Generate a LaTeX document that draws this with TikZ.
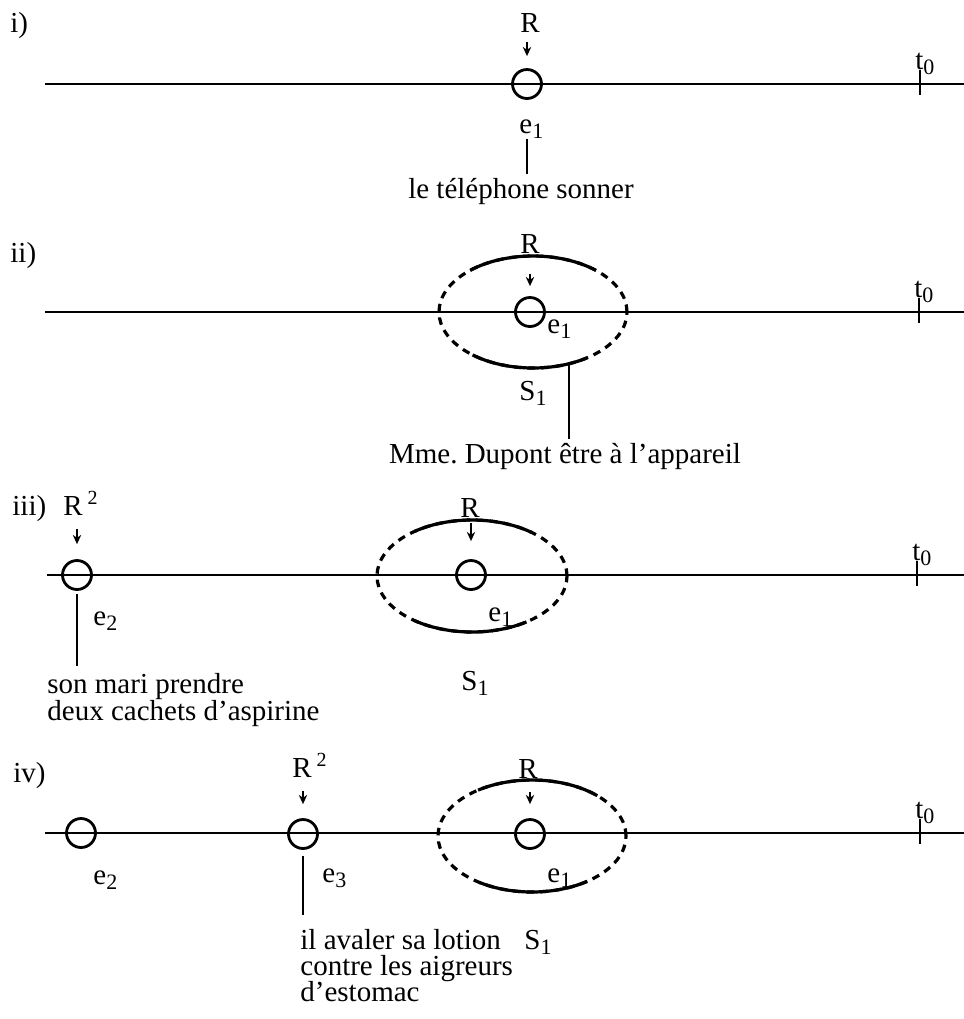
\documentclass[tikz,border=0pt]{standalone}
\usepackage{fontspec}
\setmainfont{Liberation Serif}
\usetikzlibrary{arrows.meta,positioning}
\newcommand{\lowidx}[1]{\raisebox{-2.6pt}{\fontsize{11}{11}\selectfont #1}}
\newcommand{\highidx}[1]{\raisebox{5.2pt}{\fontsize{10}{10}\selectfont #1}}
\frenchspacing

\begin{document}
\begin{tikzpicture}[x=0.5pt,y=-0.5pt]
\tikzset{
  evt/.style={circle,draw,line width=1.4pt,minimum size=14.5pt,inner sep=0pt},
  timeline/.style={line width=1pt},
  tickmark/.style={line width=1pt},
  refarrow/.style={-{Stealth[length=4.6pt,width=4.2pt]},line width=0.9pt},
  situation/.style={line width=1.6pt,dash pattern=on 3.8pt off 3pt},
  solidarc/.style={line width=1.6pt},
  stem/.style={line width=0.8pt},
  txt/.style={font=\fontsize{14.5}{13}\selectfont,inner sep=0pt,anchor=base},
  txtw/.style={txt,anchor=base west}
}
\useasboundingbox (0,0) rectangle (964,1019);

\node[txtw] (lab_i) at (10,32) {i)};
\coordinate (l_i0) at (45,84);
\coordinate (l_i1) at (964,84);
\draw[timeline] (l_i0) -- (l_i1);
\node[evt] (e1_i) at (527,84) {};
\node[txt] (R_i) at (530,32) {R};
\draw[refarrow,shorten <=5pt,shorten >=6pt] (R_i.south -| e1_i) -- (e1_i.north);
\coordinate (k_i) at (920,84);
\draw[tickmark] (k_i) ++(0,-14) -- ++(0,25);
\node[txtw] (t0_i) at (915,69) {t\lowidx{0}};
\node[txtw] (e1lab_i) at (519,133) {e\lowidx{1}};
\node[txt] (txt_i) at (521,198) {le téléphone sonner};
\draw[stem,shorten >=1.5pt] (e1lab_i.south -| e1_i) -- (txt_i.north -| e1_i);

\node[txtw] (lab_ii) at (10,262) {ii)};
\coordinate (l_ii0) at (45,312);
\coordinate (l_ii1) at (964,312);
\draw[timeline] (l_ii0) -- (l_ii1);
\coordinate (s_ii) at (533,312);
\draw[situation] (s_ii) ellipse[x radius=47pt,y radius=28pt];
\draw[solidarc] (s_ii) ++(48:47pt and 28pt) arc[start angle=48,end angle=132,x radius=47pt,y radius=28pt];
\draw[solidarc] (s_ii) ++(230:47pt and 28pt) arc[start angle=230,end angle=305,x radius=47pt,y radius=28pt];
\node[evt] (e1_ii) at (530,312) {};
\node[txt] (R_ii) at (530,253) {R};
\draw[refarrow,shorten <=10.5pt,shorten >=5pt] (R_ii.south -| e1_ii) -- (e1_ii.north);
\coordinate (k_ii) at (919,312);
\draw[tickmark] (k_ii) ++(0,-14) -- ++(0,25);
\node[txtw] (t0_ii) at (914,297) {t\lowidx{0}};
\node[txtw] (e1lab_ii) at (547,333) {e\lowidx{1}};
\node[txtw] (S1_ii) at (519,400) {S\lowidx{1}};
\path (s_ii) ++(292.5:47pt and 28pt) coordinate (foot_ii);
\node[txt] (txt_ii) at (565,463) {Mme. Dupont être à l’appareil};
\draw[stem,shorten >=1.5pt] (foot_ii) -- (foot_ii |- txt_ii.north);

\node[txtw] (lab_iii) at (12,515) {iii)};
\coordinate (l_iii0) at (47,575);
\coordinate (l_iii1) at (964,575);
\draw[timeline] (l_iii0) -- (l_iii1);
\node[evt] (e2_iii) at (77,575) {};
\node[txtw] (Rsq_iii) at (63,515) {R\,\highidx{2}};
\draw[refarrow,shorten <=7pt,shorten >=7.5pt] (Rsq_iii.south -| e2_iii) -- (e2_iii.north);
\node[txtw] (e2lab_iii) at (93,625) {e\lowidx{2}};
\node[txtw] (txt_iiia) at (47,693) {son mari prendre};
\node[txtw] (txt_iiib) at (47,720) {deux cachets d’aspirine};
\draw[stem,shorten <=1.7pt,shorten >=3pt] (e2_iii.south) -- (txt_iiia.north -| e2_iii);
\coordinate (s_iii) at (472,576);
\draw[situation] (s_iii) ellipse[x radius=47.5pt,y radius=28pt];
\draw[solidarc] (s_iii) ++(51:47.5pt and 28pt) arc[start angle=51,end angle=127,x radius=47.5pt,y radius=28pt];
\draw[solidarc] (s_iii) ++(233:47.5pt and 28pt) arc[start angle=233,end angle=305,x radius=47.5pt,y radius=28pt];
\node[evt] (e1_iii) at (471,575) {};
\node[txt] (R_iii) at (470,517) {R};
\draw[refarrow,shorten <=3pt,shorten >=9pt] (R_iii.south -| e1_iii) -- (e1_iii.north);
\node[txtw] (e1lab_iii) at (488,621) {e\lowidx{1}};
\node[txtw] (S1_iii) at (461,690) {S\lowidx{1}};
\coordinate (k_iii) at (917,575);
\draw[tickmark] (k_iii) ++(0,-14) -- ++(0,25);
\node[txtw] (t0_iii) at (912,560) {t\lowidx{0}};

\node[txtw] (lab_iv) at (13,782) {iv)};
\coordinate (l_iv0) at (45,833);
\coordinate (l_iv1) at (964,833);
\draw[timeline] (l_iv0) -- (l_iv1);
\node[evt] (e2_iv) at (81,833) {};
\node[txtw] (e2lab_iv) at (93,884) {e\lowidx{2}};
\node[evt] (e3_iv) at (303,834) {};
\node[txtw] (Rsq_iv) at (292,777) {R\,\highidx{2}};
\draw[refarrow,shorten <=7pt,shorten >=7pt] (Rsq_iv.south -| e3_iv) -- (e3_iv.north);
\node[txtw] (e3lab_iv) at (322,882) {e\lowidx{3}};
\node[txtw] (txt_iva) at (300,949) {il avaler sa lotion};
\node[txtw] (txt_ivb) at (300,975) {contre les aigreurs};
\node[txtw] (txt_ivc) at (300,1001) {d’estomac};
\draw[stem,shorten <=3.2pt,shorten >=6.5pt] (e3_iv.south) -- (txt_iva.north -| e3_iv);
\coordinate (s_iv) at (532,836);
\draw[situation] (s_iv) ellipse[x radius=47pt,y radius=28pt];
\draw[solidarc] (s_iv) ++(46:47pt and 28pt) arc[start angle=46,end angle=125,x radius=47pt,y radius=28pt];
\draw[solidarc] (s_iv) ++(236:47pt and 28pt) arc[start angle=236,end angle=306,x radius=47pt,y radius=28pt];
\node[evt] (e1_iv) at (530,834) {};
\node[txt] (R_iv) at (528,778) {R};
\draw[refarrow,shorten <=7pt,shorten >=7pt] (R_iv.south -| e1_iv) -- (e1_iv.north);
\node[txtw] (e1lab_iv) at (547,882) {e\lowidx{1}};
\node[txtw] (S1_iv) at (524,949) {S\lowidx{1}};
\coordinate (k_iv) at (920,833);
\draw[tickmark] (k_iv) ++(0,-14) -- ++(0,25);
\node[txtw] (t0_iv) at (915,818) {t\lowidx{0}};
\end{tikzpicture}
\end{document}
